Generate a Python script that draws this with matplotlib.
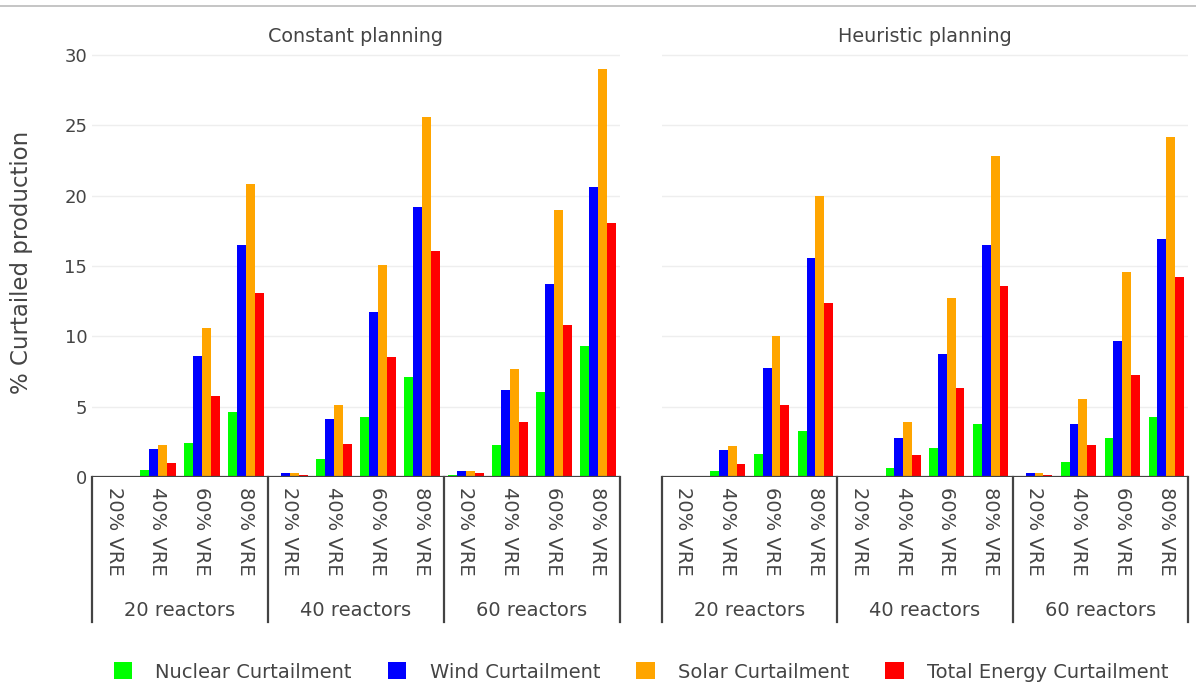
import matplotlib.pyplot as plt
from matplotlib.patches import Patch
from matplotlib.lines import Line2D
import numpy as np

plt.rcParams['font.family'] = 'DejaVu Sans'
TXT = '#444444'

reactors = ['20 reactors', '40 reactors', '60 reactors']
vre = ['20% VRE', '40% VRE', '60% VRE', '80% VRE']
series = ['Nuclear Curtailment', 'Wind Curtailment', 'Solar Curtailment', 'Total Energy Curtailment']
colors = ['#00ff00', '#0000ff', '#ffa500', '#ff0000']

# values per VRE share, grouped by reactor count (20, 40, 60)
const_nuclear = [0.0, 0.5, 2.4, 4.65,  0.1, 1.25, 4.25, 7.1,  0.15, 2.3, 6.05, 9.3]
const_wind    = [0.0, 2.0, 8.6, 16.5,  0.25, 4.15, 11.7, 19.2,  0.45, 6.2, 13.7, 20.6]
const_solar   = [0.0, 2.3, 10.6, 20.8,  0.25, 5.1, 15.1, 25.6,  0.45, 7.7, 19.0, 29.0]
const_total   = [0.0, 1.0, 5.75, 13.1,  0.15, 2.35, 8.5, 16.1,  0.28, 3.9, 10.8, 18.05]

heur_nuclear = [0.0, 0.45, 1.65, 3.25,  0.08, 0.65, 2.05, 3.75,  0.06, 1.1, 2.75, 4.3]
heur_wind    = [0.0, 1.95, 7.75, 15.6,  0.1, 2.8, 8.75, 16.5,  0.25, 3.8, 9.7, 16.9]
heur_solar   = [0.0, 2.2, 10.0, 20.0,  0.08, 3.9, 12.7, 22.85,  0.25, 5.55, 14.55, 24.2]
heur_total   = [0.0, 0.95, 5.15, 12.35,  0.1, 1.55, 6.3, 13.6,  0.12, 2.3, 7.25, 14.2]

panels = [
    ('Constant planning', [const_nuclear, const_wind, const_solar, const_total]),
    ('Heuristic planning', [heur_nuclear, heur_wind, heur_solar, heur_total]),
]

fig = plt.figure(figsize=(11.96, 6.84), dpi=100)
W, H = 1196, 684
y0, ytop = 477, 47.5
lefts = [(92, 620), (662, 1188)]

x = np.arange(len(reactors) * len(vre))
bw = 0.2
offsets = [-0.3, -0.1, 0.1, 0.3]

for i, ((title, vals), (xl, xr)) in enumerate(zip(panels, lefts)):
    ax = fig.add_axes([xl / W, (H - y0) / H, (xr - xl) / W, (y0 - ytop) / H])
    for s, (v, c, off) in enumerate(zip(vals, colors, offsets)):
        ax.bar(x + off, v, width=bw, color=c, label=series[s], zorder=3)
    ax.set_xlim(-0.5, len(x) - 0.5)
    ax.set_ylim(0, 30.53)
    ax.set_yticks([0, 5, 10, 15, 20, 25, 30])
    ax.grid(axis='y', color='#eeeeee', lw=1, zorder=0)
    ax.axhline(0, color='#444444', lw=1.6, zorder=4)
    for sp in ax.spines.values():
        sp.set_visible(False)
    ax.tick_params(axis='both', length=0, colors=TXT, labelsize=13)
    if i == 1:
        ax.set_yticklabels([])
    ax.set_xticks(x)
    ax.set_xticklabels(vre * len(reactors), rotation=-90, fontsize=14,
                       va='top', ha='center', color=TXT)
    ax.tick_params(axis='x', pad=7)
    ax.set_title(title, fontsize=13.8, color=TXT, pad=4)

    # multi-category axis: group dividers and group labels
    trans = ax.get_xaxis_transform()
    axh = y0 - ytop
    for b in np.arange(-0.5, len(x), len(vre)):
        ax.plot([b, b], [0, -(622 - y0) / axh], transform=trans, color='#444444',
                lw=1.6, clip_on=False)
    for g, name in enumerate(reactors):
        ax.text(g * len(vre) + 1.5, -(611 - y0) / axh, name, transform=trans,
                ha='center', va='center', fontsize=14, color=TXT)

fig.text(22 / W, 1 - 262 / H, '% Curtailed production', rotation=90,
         ha='center', va='center', fontsize=16.5, color=TXT)

fig.add_artist(Line2D([0, 1], [1 - 6 / H, 1 - 6 / H], color='#bbbbbb', lw=1.2))

handles = [Patch(facecolor=c, edgecolor='none') for c in colors]
fig.legend(handles, series, loc='center', bbox_to_anchor=(0.536, 1 - 672 / H), ncol=4,
           frameon=False, fontsize=14, handlelength=0.95, handleheight=0.95,
           handletextpad=1.2, columnspacing=1.85, labelcolor=TXT)

fig.savefig('out.png', dpi=100)
